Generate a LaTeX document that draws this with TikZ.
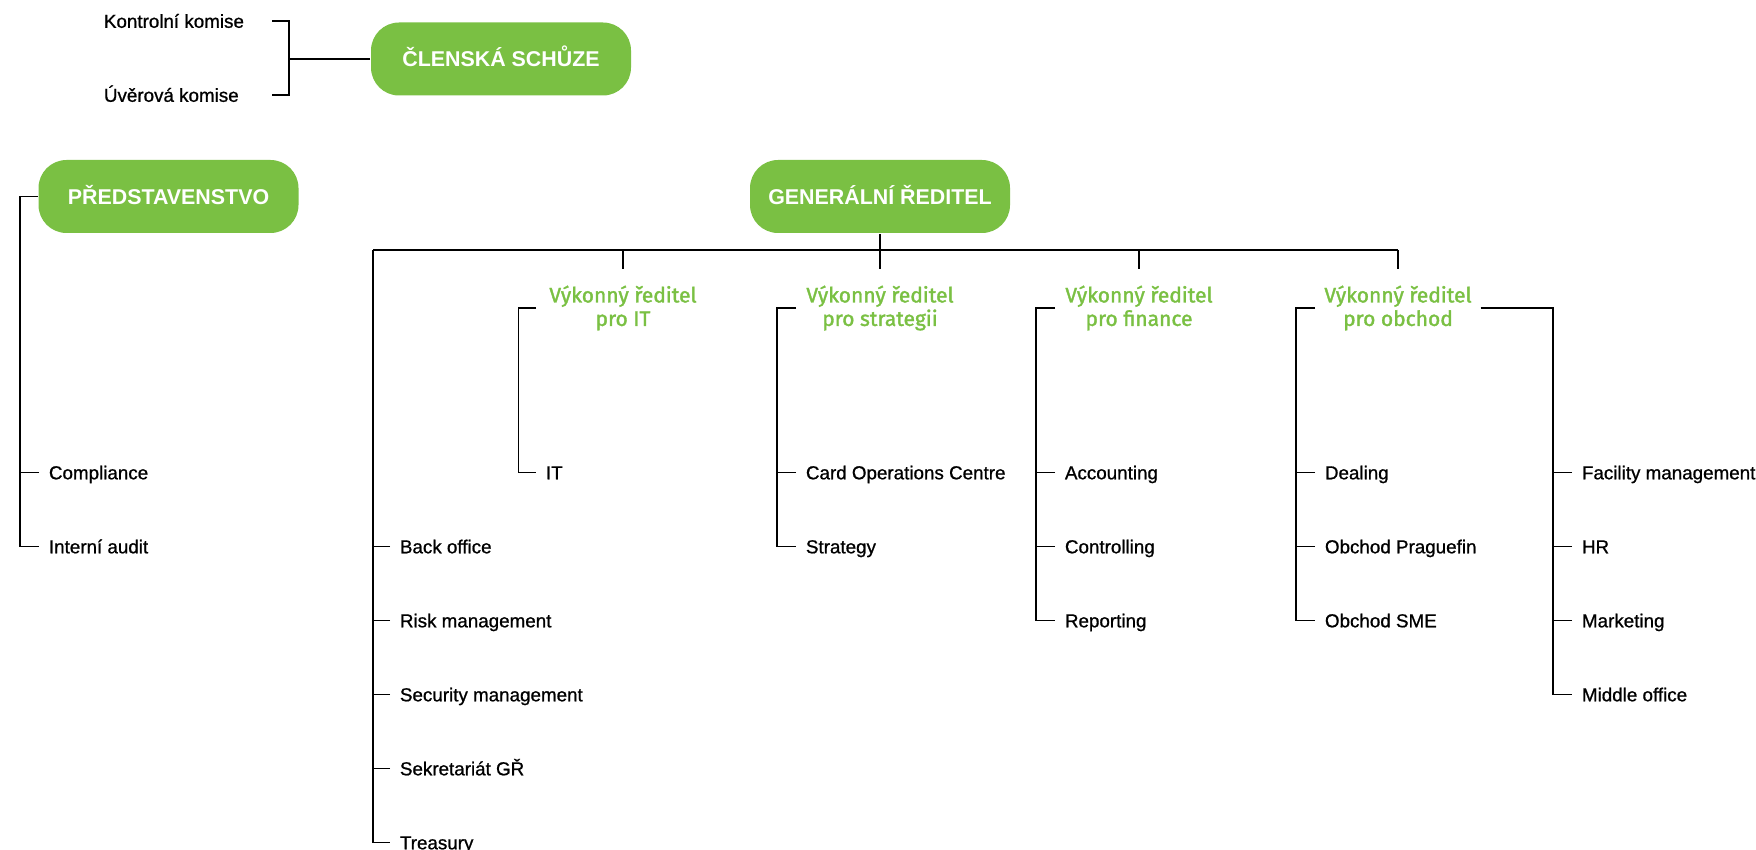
\documentclass[tikz,border=0pt]{standalone}
\usepackage{fontspec}
\setmainfont{Liberation Sans}
\newfontfamily\unitfont{Liberation Sans}[FakeBold=0.9]
\newfontfamily\headfont{Fira Sans}[FakeBold=1.6]

\begin{document}
\begin{tikzpicture}[
  x=0.5pt, y=-0.5pt,
  line width=0.95pt,
  unit/.style={anchor=west, inner xsep=4.5pt, inner ysep=0pt, text height=6.8pt, text depth=0pt,
    font=\unitfont\fontsize{9.4}{11}\selectfont},
  topbox/.style={fill=ccgreen, rounded corners=14pt, minimum width=130pt, minimum height=36.5pt,
    text height=7.7pt, text depth=0pt, text=white, font=\fontsize{10.7}{12}\selectfont\bfseries},
  exec/.style={align=center, inner sep=0pt, text=ccgreen, font=\headfont\fontsize{10.5}{11.75}\selectfont},
]
\definecolor{ccgreen}{RGB}{122,192,67}

\useasboundingbox (0,0) rectangle (1756,850);

% clenska schuze a komise
\node [topbox] (schuze) at (501,59) {ČLENSKÁ SCHŮZE};
\node [unit, inner xsep=0pt] (kontrol) at (103,21) {Kontrolní komise};
\node [unit, inner xsep=0pt] (uver) at (103,95) {Úvěrová komise};
\coordinate (kbar) at (289,59);
\coordinate (kend) at (272,59);
\draw (schuze.west) -- (kbar);
\draw (kend |- kontrol) -| (kbar) |- (kend |- uver);

% predstavenstvo
\node [topbox] (pred) at (168.5,196.5) {PŘEDSTAVENSTVO};
\node [unit] (compl) at (39,472.5) {Compliance};
\node [unit] (audit) at (39,546.5) {Interní audit};
\coordinate (predbar) at (20,196.5);
\draw (pred.west) -- (predbar) |- (audit.west);
\draw (compl.west) -- (compl.west -| predbar);

% generalni reditel
\node [topbox] (gr) at (880,196.5) {GENERÁLNÍ ŘEDITEL};
\coordinate (bus) at (880,250);
\coordinate (busl) at (373,250);
\coordinate (busr) at (1398,250);
\draw (gr.south) -- (bus);
\draw (busl) -- (busr);

\node [exec] (vit) at (623,308) {Výkonný ředitel\\pro IT};
\node [exec] (vstrat) at (880,308) {Výkonný ředitel\\pro strategii};
\node [exec] (vfin) at (1139,308) {Výkonný ředitel\\pro finance};
\node [exec] (vob) at (1398,308) {Výkonný ředitel\\pro obchod};
\foreach \n in {vit,vstrat,vfin,vob}
  \draw (\n |- bus) -- ++(0,19);

% primo pod GR
\node [unit] (back) at (390,546.5) {Back office};
\node [unit] (risk) at (390,620.5) {Risk management};
\node [unit] (secur) at (390,694.5) {Security management};
\node [unit] (sekr) at (390,768.5) {Sekretariát GŘ};
\node [unit] (treas) at (390,842.5) {Treasury};
\draw (busl) |- (treas.west);
\foreach \n in {back,risk,secur,sekr}
  \draw (\n.west) -- (\n.west -| busl);

% IT
\node [unit] (it) at (536,472.5) {IT};
\coordinate (itbar) at (518.5,308);
\draw (itbar -| it.west) -- (itbar) |- (it.west);

% strategie
\node [unit] (card) at (796,472.5) {Card Operations Centre};
\node [unit] (strat) at (796,546.5) {Strategy};
\coordinate (stbar) at (777,308);
\draw (stbar -| card.west) -- (stbar) |- (strat.west);
\draw (card.west) -- (card.west -| stbar);

% finance
\node [unit] (acc) at (1055,472.5) {Accounting};
\node [unit] (contr) at (1055,546.5) {Controlling};
\node [unit] (rep) at (1055,620.5) {Reporting};
\coordinate (finbar) at (1036,308);
\draw (finbar -| acc.west) -- (finbar) |- (rep.west);
\foreach \n in {acc,contr}
  \draw (\n.west) -- (\n.west -| finbar);

% obchod
\node [unit] (deal) at (1315,472.5) {Dealing};
\node [unit] (prag) at (1315,546.5) {Obchod Praguefin};
\node [unit] (sme) at (1315,620.5) {Obchod SME};
\coordinate (obbar) at (1296,308);
\draw (obbar -| deal.west) -- (obbar) |- (sme.west);
\foreach \n in {deal,prag}
  \draw (\n.west) -- (\n.west -| obbar);

\node [unit] (fac) at (1572,472.5) {Facility management};
\node [unit] (hr) at (1572,546.5) {HR};
\node [unit] (mkt) at (1572,620.5) {Marketing};
\node [unit] (mid) at (1572,694.5) {Middle office};
\coordinate (obbar2) at (1553,308);
\draw ([xshift=4pt]vob.east |- obbar2) -- (obbar2) |- (mid.west);
\foreach \n in {fac,hr,mkt}
  \draw (\n.west) -- (\n.west -| obbar2);

\end{tikzpicture}
\end{document}
